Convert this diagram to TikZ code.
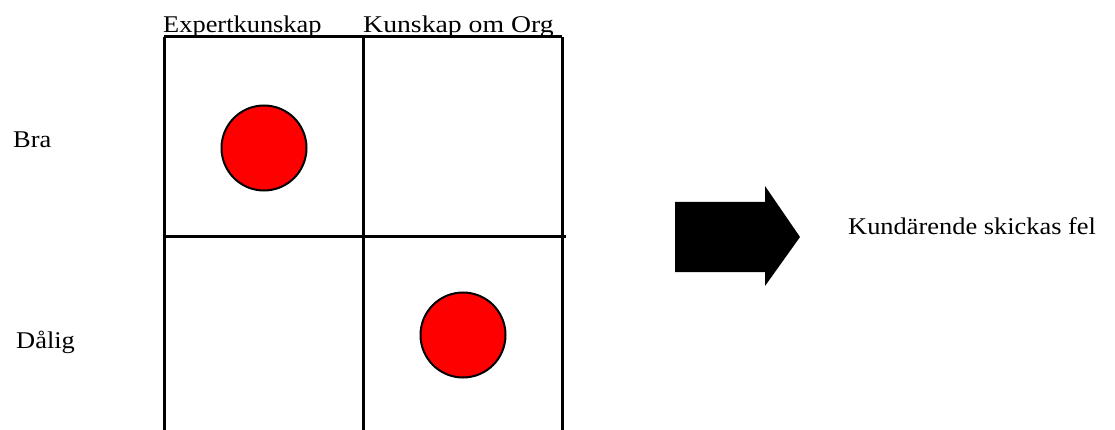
\documentclass[tikz,border=0pt]{standalone}
\usepackage{fontspec}
\setmainfont{Liberation Serif}
\begin{document}
\begin{tikzpicture}[x=1pt,y=-1pt,
  grid/.style={line width=3pt},
  dot/.style={circle,draw=black,line width=2pt,fill=red,minimum size=85pt,inner sep=0pt},
  lbl/.style={font=\fontsize{24}{28}\selectfont,inner sep=0pt,xscale=1.1}]
\useasboundingbox (0,0) rectangle (1115,430);
% grid
\coordinate (tl) at (164,37);
\coordinate (tm) at (363,37);
\coordinate (tr) at (562,37);
\coordinate (bl) at (164,430);
\coordinate (bm) at (363,430);
\coordinate (br) at (562,430);
\coordinate (ml) at (164,237);
\coordinate (mr) at (566,237);
\draw[grid] (tl) -- (tr);
\draw[grid] (tl) -- (bl);
\draw[grid] (tm) -- (bm);
\draw[grid] (tr) -- (br);
\draw[grid] (ml) -- (mr);
% circles
\node[dot] (c1) at (264,148) {};
\node[dot] (c2) at (463,335) {};
% labels
\node[lbl,anchor=base west] (h1) at (163,33) {Expertkunskap};
\node[lbl,anchor=base west,xscale=1.05] (h2) at (363,33) {Kunskap om Org};
\node[lbl,anchor=base west] (r1) at (13,148) {Bra};
\node[lbl,anchor=base west] (r2) at (16,348) {Dålig};
\node[lbl,anchor=base west] (t) at (848,235) {Kundärende skickas fel};
% arrow
\fill[black] (675,202) -- (765,202) -- (765,186) -- (800,237) -- (765,286) -- (765,272) -- (675,272) -- cycle;
\end{tikzpicture}
\end{document}
